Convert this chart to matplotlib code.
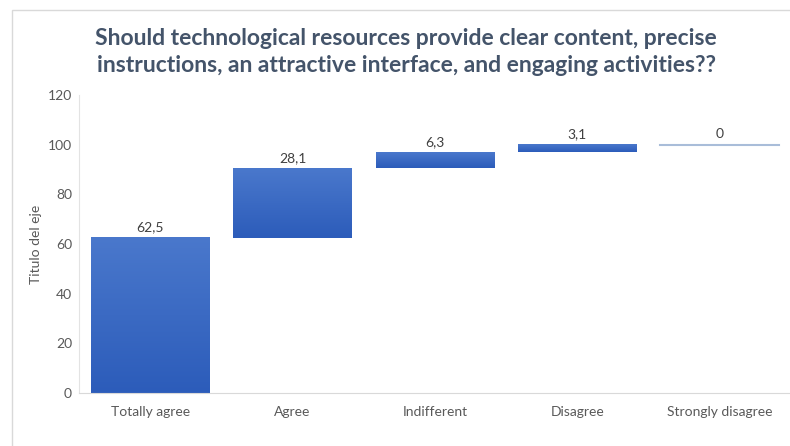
import matplotlib
matplotlib.use("Agg")
import matplotlib.pyplot as plt
import numpy as np
from matplotlib.patches import Rectangle
from matplotlib.colors import LinearSegmentedColormap

categories = ["Totally agree", "Agree", "Indifferent", "Disagree", "Strongly disagree"]
values = [62.5, 28.1, 6.3, 3.1, 0]
value_labels = ["62,5", "28,1", "6,3", "3,1", "0"]
yticks = [0, 20, 40, 60, 80, 100, 120]
title = ("Should technological resources provide clear content, precise\n"
         "instructions, an attractive interface, and engaging activities??")
ylabel = "Titulo del eje"

plt.rcParams['font.family'] = ['Lato', 'DejaVu Sans']

fig = plt.figure(figsize=(7.9, 4.46), dpi=100)
fig.patch.set_facecolor("white")
# outer light border
fig.add_artist(Rectangle((12/790, -0.1), 1.2, 1 - 10/446 + 0.1, transform=fig.transFigure,
                         fill=False, edgecolor="#D9D9D9", linewidth=1))

ax = fig.add_axes([79/790, 53/446, 712/790, (393-95)/446])
x = np.arange(len(categories))
bottoms = np.concatenate([[0], np.cumsum(values)[:-1]])
width = 0.835

cmap = LinearSegmentedColormap.from_list("g", ["#2C5CBA", "#4A78CC"])
grad = np.linspace(0, 1, 256).reshape(-1, 1)
for xi, b, v, lab in zip(x, bottoms, values, value_labels):
    if v > 0:
        bars = ax.bar(xi, v, bottom=b, width=width, color="#4472C4", linewidth=0)
        ax.imshow(grad, extent=[xi - width/2, xi + width/2, b, b + v], origin="lower",
                  cmap=cmap, vmin=0, vmax=1, aspect="auto", zorder=2,
                  clip_path=bars[0], clip_on=True)
        bars[0].set_alpha(0)
    else:
        ax.plot([xi - width/2, xi + width/2], [b, b], color="#A9BDD9", linewidth=1.5, zorder=2)
    ax.annotate(lab, (xi, b + v), xytext=(0, 3), textcoords="offset points",
                ha="center", va="bottom", fontsize=10, color="#404040")

ax.set_xlim(-0.5, len(categories) - 0.5)
ax.set_ylim(0, 120)
ax.set_yticks(yticks)
ax.set_xticks(x)
ax.set_xticklabels(categories)
ax.tick_params(axis="both", length=0, labelsize=10, labelcolor="#595959")
ax.tick_params(axis="y", pad=5)
ax.tick_params(axis="x", pad=9)
for s in ["top", "right"]:
    ax.spines[s].set_visible(False)
ax.spines["left"].set_color("#E3E3E3")
ax.spines["bottom"].set_color("#D9D9D9")
ax.set_ylabel(ylabel, fontsize=10, color="#595959", labelpad=4)

fig.text(0.514, 1 - 52/446, title, ha="center", va="center", fontsize=16.5,
         fontweight="bold", color="#44546A", linespacing=1.35)

fig.savefig("out.png", dpi=100)
